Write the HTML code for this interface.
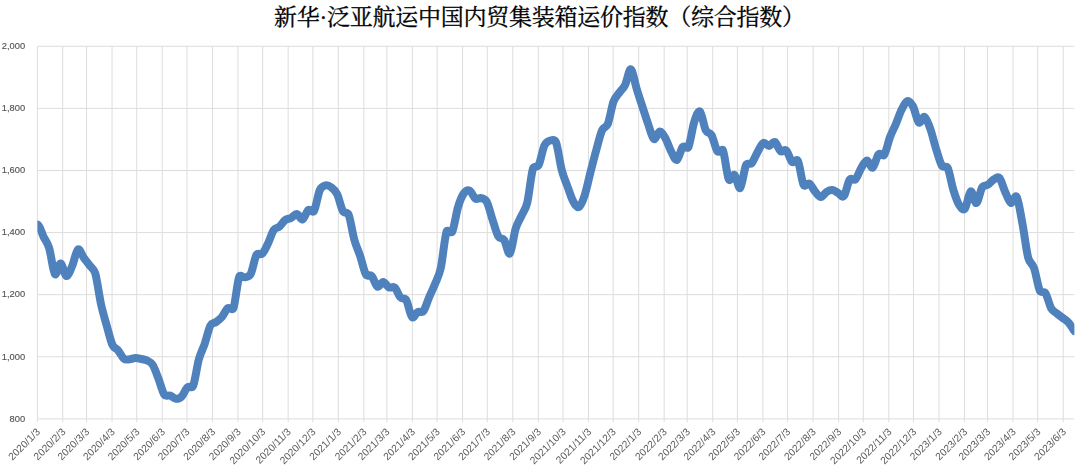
<!DOCTYPE html>
<html><head><meta charset="utf-8"><title>chart</title>
<style>html,body{margin:0;padding:0;background:#fff}body{width:1080px;height:470px;overflow:hidden}svg{display:block}text{font-family:"Liberation Sans",sans-serif}</style></head>
<body>
<svg width="1080" height="470" viewBox="0 0 1080 470">
<rect width="1080" height="470" fill="#fff"/>
<path d="M37.40 418.85H1074.40M37.40 356.76H1074.40M37.40 294.67H1074.40M37.40 232.58H1074.40M37.40 170.48H1074.40M37.40 108.39H1074.40M37.40 46.30H1074.40M37.40 46.30V422.05M62.71 46.30V422.05M86.57 46.30V422.05M112.07 46.30V422.05M136.76 46.30V422.05M162.27 46.30V422.05M186.95 46.30V422.05M212.46 46.30V422.05M237.96 46.30V422.05M262.65 46.30V422.05M288.15 46.30V422.05M312.84 46.30V422.05M338.34 46.30V422.05M363.85 46.30V422.05M386.89 46.30V422.05M412.40 46.30V422.05M437.08 46.30V422.05M462.59 46.30V422.05M487.27 46.30V422.05M512.78 46.30V422.05M538.29 46.30V422.05M562.97 46.30V422.05M588.48 46.30V422.05M613.16 46.30V422.05M638.67 46.30V422.05M664.17 46.30V422.05M687.21 46.30V422.05M712.72 46.30V422.05M737.40 46.30V422.05M762.91 46.30V422.05M787.59 46.30V422.05M813.10 46.30V422.05M838.61 46.30V422.05M863.29 46.30V422.05M888.80 46.30V422.05M913.48 46.30V422.05M938.99 46.30V422.05M964.50 46.30V422.05M987.53 46.30V422.05M1013.04 46.30V422.05M1037.72 46.30V422.05M1063.23 46.30V422.05" stroke="#dddddd" stroke-width="1" fill="none"/>
<defs><filter id="gs" x="0" y="0" width="1080" height="470" filterUnits="userSpaceOnUse" color-interpolation-filters="sRGB"><feColorMatrix type="saturate" values="0"/></filter></defs>
<g font-size="9.7" text-anchor="end" filter="url(#gs)" fill="#555555" stroke="#555555" stroke-width="0.15">
<text transform="translate(25.1 421.65) scale(0.964 1)">800</text>
<text transform="translate(25.1 359.56) scale(0.964 1)">1,000</text>
<text transform="translate(25.1 297.47) scale(0.964 1)">1,200</text>
<text transform="translate(25.1 235.38) scale(0.964 1)">1,400</text>
<text transform="translate(25.1 173.28) scale(0.964 1)">1,600</text>
<text transform="translate(25.1 111.19) scale(0.964 1)">1,800</text>
<text transform="translate(25.1 49.10) scale(0.964 1)">2,000</text>
</g>
<g font-size="10.3" text-anchor="end" filter="url(#gs)" fill="#595959">
<text transform="translate(38.40 430) rotate(-45)" y="3.5">2020/1/3</text>
<text transform="translate(63.71 430) rotate(-45)" y="3.5">2020/2/3</text>
<text transform="translate(87.57 430) rotate(-45)" y="3.5">2020/3/3</text>
<text transform="translate(113.07 430) rotate(-45)" y="3.5">2020/4/3</text>
<text transform="translate(137.76 430) rotate(-45)" y="3.5">2020/5/3</text>
<text transform="translate(163.27 430) rotate(-45)" y="3.5">2020/6/3</text>
<text transform="translate(187.95 430) rotate(-45)" y="3.5">2020/7/3</text>
<text transform="translate(213.46 430) rotate(-45)" y="3.5">2020/8/3</text>
<text transform="translate(238.96 430) rotate(-45)" y="3.5">2020/9/3</text>
<text transform="translate(263.65 430) rotate(-45)" y="3.5">2020/10/3</text>
<text transform="translate(289.15 430) rotate(-45)" y="3.5">2020/11/3</text>
<text transform="translate(313.84 430) rotate(-45)" y="3.5">2020/12/3</text>
<text transform="translate(339.34 430) rotate(-45)" y="3.5">2021/1/3</text>
<text transform="translate(364.85 430) rotate(-45)" y="3.5">2021/2/3</text>
<text transform="translate(387.89 430) rotate(-45)" y="3.5">2021/3/3</text>
<text transform="translate(413.40 430) rotate(-45)" y="3.5">2021/4/3</text>
<text transform="translate(438.08 430) rotate(-45)" y="3.5">2021/5/3</text>
<text transform="translate(463.59 430) rotate(-45)" y="3.5">2021/6/3</text>
<text transform="translate(488.27 430) rotate(-45)" y="3.5">2021/7/3</text>
<text transform="translate(513.78 430) rotate(-45)" y="3.5">2021/8/3</text>
<text transform="translate(539.29 430) rotate(-45)" y="3.5">2021/9/3</text>
<text transform="translate(563.97 430) rotate(-45)" y="3.5">2021/10/3</text>
<text transform="translate(589.48 430) rotate(-45)" y="3.5">2021/11/3</text>
<text transform="translate(614.16 430) rotate(-45)" y="3.5">2021/12/3</text>
<text transform="translate(639.67 430) rotate(-45)" y="3.5">2022/1/3</text>
<text transform="translate(665.17 430) rotate(-45)" y="3.5">2022/2/3</text>
<text transform="translate(688.21 430) rotate(-45)" y="3.5">2022/3/3</text>
<text transform="translate(713.72 430) rotate(-45)" y="3.5">2022/4/3</text>
<text transform="translate(738.40 430) rotate(-45)" y="3.5">2022/5/3</text>
<text transform="translate(763.91 430) rotate(-45)" y="3.5">2022/6/3</text>
<text transform="translate(788.59 430) rotate(-45)" y="3.5">2022/7/3</text>
<text transform="translate(814.10 430) rotate(-45)" y="3.5">2022/8/3</text>
<text transform="translate(839.61 430) rotate(-45)" y="3.5">2022/9/3</text>
<text transform="translate(864.29 430) rotate(-45)" y="3.5">2022/10/3</text>
<text transform="translate(889.80 430) rotate(-45)" y="3.5">2022/11/3</text>
<text transform="translate(914.48 430) rotate(-45)" y="3.5">2022/12/3</text>
<text transform="translate(939.99 430) rotate(-45)" y="3.5">2023/1/3</text>
<text transform="translate(965.50 430) rotate(-45)" y="3.5">2023/2/3</text>
<text transform="translate(988.53 430) rotate(-45)" y="3.5">2023/3/3</text>
<text transform="translate(1014.04 430) rotate(-45)" y="3.5">2023/4/3</text>
<text transform="translate(1038.72 430) rotate(-45)" y="3.5">2023/5/3</text>
<text transform="translate(1064.23 430) rotate(-45)" y="3.5">2023/6/3</text>
</g>
<clipPath id="c"><rect x="37.40" y="46.30" width="1037.00" height="372.55"/></clipPath>
<path clip-path="url(#c)" d="M37.61 224.60C40.21 226.40 41.45 232.50 43.37 236.40C45.29 240.30 47.23 241.81 49.13 248.00C51.05 254.27 52.97 271.42 54.89 274.00C56.81 276.58 58.73 263.17 60.65 263.50C62.57 263.83 64.49 275.58 66.41 276.00C68.33 276.42 70.25 270.43 72.17 266.00C74.09 261.57 76.01 250.80 77.93 249.40C79.85 248.00 81.77 254.97 83.69 257.60C85.61 260.23 87.53 262.60 89.45 265.20C91.37 267.80 93.81 268.47 95.21 273.20C97.13 279.67 99.05 295.27 100.97 304.00C102.89 312.73 104.81 318.77 106.73 325.60C108.65 332.43 110.57 340.83 112.49 345.00C114.17 348.65 116.33 348.30 118.25 350.60C120.17 352.90 122.09 357.35 124.01 358.80C125.93 360.25 127.84 359.43 129.76 359.30C131.68 359.17 133.60 358.05 135.52 358.00C137.44 357.95 139.36 358.58 141.28 359.00C143.20 359.42 145.12 359.50 147.04 360.50C148.96 361.50 150.88 361.92 152.80 365.00C154.72 368.08 156.64 374.07 158.56 379.00C160.48 383.93 162.40 391.83 164.32 394.60C165.99 397.00 168.16 394.90 170.08 395.60C172.00 396.30 173.92 398.63 175.84 398.80C177.76 398.97 179.68 398.50 181.60 396.60C183.52 394.70 185.44 389.17 187.36 387.40C189.28 385.63 192.00 388.74 193.12 386.00C195.04 381.32 196.96 366.30 198.88 359.30C200.80 352.30 202.72 349.63 204.64 344.00C206.56 338.37 208.48 329.17 210.40 325.50C211.96 322.51 214.24 323.42 216.16 322.00C218.08 320.58 220.00 319.28 221.92 317.00C223.84 314.72 225.76 309.77 227.68 308.30C229.60 306.83 232.45 310.91 233.44 308.20C235.36 302.95 237.28 281.95 239.20 276.80C240.21 274.09 243.04 277.77 244.96 277.30C246.88 276.83 249.21 276.95 250.72 274.00C252.64 270.25 254.56 258.18 256.48 254.80C257.93 252.25 260.32 255.58 262.24 253.70C264.16 251.82 266.08 247.45 268.00 243.50C269.92 239.55 271.83 232.82 273.75 230.00C275.63 227.24 277.59 228.27 279.51 226.60C281.43 224.93 283.35 221.43 285.27 220.00C287.19 218.57 289.11 219.00 291.03 218.00C292.95 217.00 294.87 213.77 296.79 214.00C298.71 214.23 300.63 220.07 302.55 219.40C304.47 218.73 306.39 211.40 308.31 210.00C310.23 208.60 312.61 213.53 314.07 211.00C315.99 207.67 317.91 194.27 319.83 190.00C321.34 186.64 323.67 185.83 325.59 185.40C327.51 184.97 329.43 185.97 331.35 187.40C333.27 188.83 335.19 190.07 337.11 194.00C339.03 197.93 340.95 207.57 342.87 211.00C344.53 213.96 347.38 211.44 348.63 214.60C350.55 219.43 352.47 233.10 354.39 240.00C356.31 246.90 358.23 250.23 360.15 256.00C362.07 261.77 363.99 271.27 365.91 274.60C367.39 277.17 369.75 274.00 371.67 276.00C373.59 278.00 375.51 285.60 377.43 286.60C379.35 287.60 381.27 281.87 383.19 282.00C385.11 282.13 387.03 286.47 388.95 287.40C390.87 288.33 392.79 285.93 394.71 287.60C396.63 289.27 398.55 295.33 400.47 297.40C402.39 299.47 404.63 297.28 406.23 300.00C408.15 303.27 410.07 315.00 411.99 317.00C413.91 319.00 415.83 313.00 417.75 312.00C419.67 311.00 421.72 313.32 423.50 311.00C425.42 308.50 427.34 301.50 429.26 297.00C431.18 292.50 433.10 288.83 435.02 284.00C436.94 279.17 438.95 276.30 440.78 268.00C442.70 259.27 444.62 237.67 446.54 231.60C447.41 228.85 451.08 234.21 452.30 231.60C454.22 227.50 456.14 213.37 458.06 207.00C459.98 200.63 461.90 196.13 463.82 193.40C465.66 190.78 467.66 189.73 469.58 190.60C471.50 191.47 473.42 197.37 475.34 198.60C477.26 199.83 479.18 197.43 481.10 198.00C483.02 198.57 485.23 198.89 486.86 202.00C488.78 205.67 490.70 214.23 492.62 220.00C494.54 225.77 496.46 233.27 498.38 236.60C500.05 239.50 502.25 237.24 504.14 240.00C506.06 242.80 507.98 255.30 509.90 253.40C511.82 251.50 513.74 234.83 515.66 228.60C517.58 222.37 519.50 220.27 521.42 216.00C523.34 211.73 525.50 209.91 527.18 203.00C529.10 195.10 531.02 174.93 532.94 168.60C533.93 165.35 537.19 168.04 538.70 165.00C540.62 161.13 542.54 149.48 544.46 145.40C546.07 141.98 548.30 141.02 550.22 140.50C552.14 139.98 554.88 139.49 555.98 142.30C557.90 147.22 559.82 162.63 561.74 170.00C563.66 177.37 565.57 181.25 567.49 186.50C569.41 191.75 571.33 198.08 573.25 201.50C575.17 204.92 577.09 208.08 579.01 207.00C580.93 205.92 582.85 200.83 584.77 195.00C586.69 189.17 588.61 179.50 590.53 172.00C592.45 164.50 594.37 156.95 596.29 150.00C598.21 143.05 600.13 134.63 602.05 130.30C603.78 126.40 606.23 127.96 607.81 124.00C609.73 119.18 611.65 106.63 613.57 101.40C615.38 96.46 617.41 95.33 619.33 92.60C621.25 89.87 623.17 88.87 625.09 85.00C627.01 81.13 628.93 68.80 630.85 69.40C632.77 70.00 634.69 82.40 636.61 88.60C638.53 94.80 640.45 100.70 642.37 106.60C644.29 112.50 646.21 118.60 648.13 124.00C650.05 129.40 651.97 137.75 653.89 139.00C655.81 140.25 657.73 131.63 659.65 131.50C661.57 131.37 663.49 134.87 665.41 138.20C667.33 141.53 669.25 147.87 671.17 151.50C673.09 155.13 675.01 160.75 676.93 160.00C678.85 159.25 680.77 149.17 682.69 147.00C684.60 144.84 687.24 149.62 688.45 147.00C690.37 142.83 692.29 127.92 694.21 122.00C696.06 116.30 698.05 110.13 699.97 111.50C701.89 112.87 703.81 126.28 705.73 130.20C707.38 133.56 709.67 131.72 711.48 135.00C713.40 138.47 715.32 148.40 717.24 151.00C718.95 153.32 721.91 147.92 723.00 150.60C724.92 155.33 726.84 175.33 728.76 179.40C730.31 182.68 732.60 173.57 734.52 175.00C736.44 176.43 738.36 189.67 740.28 188.00C742.20 186.33 744.12 169.17 746.04 165.00C747.32 162.23 749.88 165.17 751.80 163.00C753.72 160.83 755.64 155.33 757.56 152.00C759.48 148.67 761.40 144.00 763.32 143.00C765.24 142.00 767.16 146.17 769.08 146.00C771.00 145.83 772.92 141.13 774.84 142.00C776.76 142.87 778.68 149.77 780.60 151.20C782.52 152.63 784.44 148.80 786.36 150.60C788.28 152.40 790.20 160.30 792.12 162.00C794.04 163.70 796.56 158.17 797.88 160.80C799.80 164.63 801.72 181.20 803.64 185.00C804.98 187.65 807.48 182.48 809.40 183.60C811.32 184.72 813.24 189.47 815.16 191.70C817.08 193.93 819.00 196.98 820.92 197.00C822.84 197.02 824.76 192.97 826.68 191.80C828.60 190.63 830.52 189.80 832.44 190.00C834.36 190.20 836.28 192.00 838.20 193.00C840.12 194.00 842.04 198.25 843.96 196.00C845.88 193.75 847.80 182.28 849.72 179.50C851.35 177.13 853.55 181.22 855.47 179.30C857.39 177.38 859.31 171.15 861.23 168.00C863.15 164.85 865.07 160.47 866.99 160.40C868.91 160.33 870.83 168.60 872.75 167.60C874.67 166.60 876.59 156.55 878.51 154.40C880.43 152.25 882.68 157.10 884.27 154.70C886.19 151.80 888.11 142.08 890.03 137.00C891.95 131.92 893.87 128.73 895.79 124.20C897.71 119.67 899.63 113.67 901.55 109.80C903.47 105.93 905.39 101.55 907.31 101.00C909.23 100.45 911.19 102.99 913.07 106.50C914.99 110.08 916.91 120.75 918.83 122.50C920.75 124.25 922.67 115.92 924.59 117.00C926.51 118.08 928.43 123.67 930.35 129.00C932.27 134.33 934.19 142.88 936.11 149.00C938.03 155.12 939.95 162.57 941.87 165.70C943.47 168.31 946.32 165.03 947.63 167.80C949.55 171.85 951.47 183.80 953.39 190.00C955.31 196.20 957.23 201.90 959.15 205.00C960.94 207.89 962.99 210.88 964.91 208.60C966.83 206.32 968.75 192.23 970.67 191.30C972.59 190.37 974.51 203.67 976.43 203.00C978.35 202.33 980.27 190.35 982.19 187.30C983.87 184.63 986.03 186.00 987.95 184.70C989.87 183.40 991.79 180.62 993.71 179.50C995.63 178.38 997.54 175.92 999.46 178.00C1001.38 180.08 1003.30 187.83 1005.22 192.00C1007.14 196.17 1009.06 202.17 1010.98 203.00C1012.90 203.83 1014.82 193.50 1016.74 197.00C1018.66 200.50 1020.58 213.83 1022.50 224.00C1024.42 234.17 1026.34 250.67 1028.26 258.00C1029.72 263.58 1032.10 262.57 1034.02 268.00C1035.94 273.43 1037.86 286.37 1039.78 290.60C1041.10 293.52 1043.81 290.70 1045.54 293.40C1047.46 296.40 1049.38 305.23 1051.30 308.60C1053.19 311.91 1055.14 312.03 1057.06 313.60C1058.98 315.17 1060.90 316.50 1062.82 318.00C1064.74 319.50 1066.66 320.43 1068.58 322.60C1070.50 324.77 1073.38 329.60 1074.34 331.00" stroke="#4f81bd" stroke-width="8" fill="none" stroke-linejoin="round" stroke-linecap="round"/>
<g role="img" aria-label="新华·泛亚航运中国内贸集装箱运价指数（综合指数）"><title>新华·泛亚航运中国内贸集装箱运价指数（综合指数）</title>
<text x="539.5" y="25.3" font-size="23" text-anchor="middle" textLength="531" lengthAdjust="spacing" fill="#000" stroke="#000" stroke-width="0.30" stroke-linejoin="round" style="font-family:'Liberation Serif','Noto Serif CJK SC',serif">新华·泛亚航运中国内贸集装箱运价指数（综合指数）</text>
</g>
</svg>
</body></html>
